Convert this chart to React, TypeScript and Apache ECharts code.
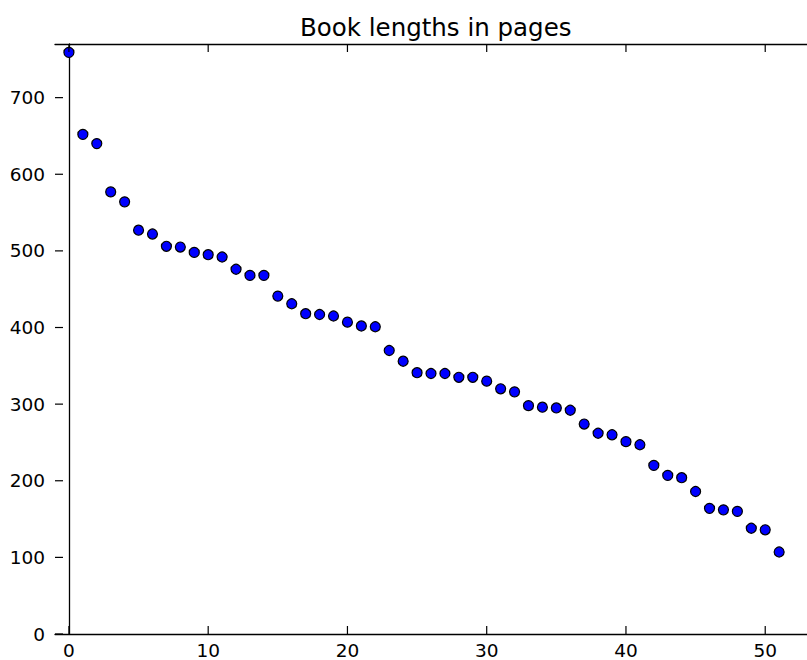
import React, { useEffect, useRef } from "react";
import * as echarts from "echarts";

const titleText = "Book lengths in pages";
const xTicks = [0, 10, 20, 30, 40, 50];
const yTicks = [0, 100, 200, 300, 400, 500, 600, 700];
const pages = [
  759, 652, 640, 577, 564, 527, 522, 506, 505, 498,
  495, 492, 476, 468, 468, 441, 431, 418, 417, 415,
  407, 402, 401, 370, 356, 341, 340, 340, 335, 335,
  330, 320, 316, 298, 296, 295, 292, 274, 262, 260,
  251, 247, 220, 207, 204, 186, 164, 162, 160, 138,
  136, 107,
];

const FONT = "DejaVu Sans";
const X_MIN = -1;
const X_MAX = 53;
const Y_MIN = 0;
const Y_MAX = 770;
const TICK = 8;

export default function App() {
  const ref = useRef<HTMLDivElement>(null);
  useEffect(() => {
    if (!ref.current) return;
    const chart = echarts.init(ref.current, null, { renderer: "svg" });
    const data = pages.map((v, i) => [i, v]);
    const axisLine = { show: true, lineStyle: { color: "#000", width: 1.3 } };
    const tickStyle = { stroke: "#000", lineWidth: 1.2, fill: null };
    const xTickData = xTicks.map((v) => [v, Y_MIN]);
    const yTickData = yTicks.map((v) => [X_MIN, v]);
    chart.setOption({
      animation: false,
      backgroundColor: "#fff",
      title: {
        text: titleText,
        left: 300,
        top: 15,
        padding: 0,
        textStyle: { fontFamily: FONT, fontSize: 24.5, fontWeight: "normal", color: "#000" },
      },
      grid: { left: 55, top: 44, width: 763, height: 591, containLabel: false },
      xAxis: [
        {
          type: "value",
          min: X_MIN,
          max: X_MAX,
          position: "bottom",
          axisLine,
          splitLine: { show: false },
          axisTick: { show: false },
          axisLabel: { customValues: xTicks, margin: 7, fontFamily: FONT, fontSize: 18.5, color: "#000" },
        },
        {
          type: "value",
          min: X_MIN,
          max: X_MAX,
          position: "top",
          axisLine,
          splitLine: { show: false },
          axisTick: { show: false },
          axisLabel: { show: false },
        },
      ],
      yAxis: [
        {
          type: "value",
          min: Y_MIN,
          max: Y_MAX,
          position: "left",
          axisLine,
          splitLine: { show: false },
          axisTick: { show: false },
          axisLabel: { customValues: yTicks, margin: 10, fontFamily: FONT, fontSize: 18.5, color: "#000" },
        },
      ],
      series: [
        {
          type: "custom",
          name: "xticks",
          silent: true,
          clip: false,
          z: 10,
          data: xTickData,
          encode: { x: 0, y: 1 },
          renderItem: (params: any, api: any) => {
            const v = api.value(0);
            const b = api.coord([v, Y_MIN]);
            const t = api.coord([v, Y_MAX]);
            return {
              type: "group",
              children: [
                { type: "line", shape: { x1: b[0], y1: b[1], x2: b[0], y2: b[1] - TICK }, style: tickStyle },
                { type: "line", shape: { x1: t[0], y1: t[1], x2: t[0], y2: t[1] + TICK }, style: tickStyle },
              ],
            };
          },
        },
        {
          type: "custom",
          name: "yticks",
          silent: true,
          clip: false,
          z: 10,
          data: yTickData,
          encode: { x: 0, y: 1 },
          renderItem: (params: any, api: any) => {
            const v = api.value(1);
            const l = api.coord([X_MIN, v]);
            return {
              type: "line",
              shape: { x1: l[0], y1: l[1], x2: l[0] + TICK, y2: l[1] },
              style: tickStyle,
            };
          },
        },
        {
          type: "scatter",
          data,
          symbol: "circle",
          symbolSize: 10,
          itemStyle: { color: "#0000ff", opacity: 1, borderColor: "#000", borderWidth: 1.2 },
          clip: false,
          z: 5,
        },
      ],
    });
    return () => chart.dispose();
  }, []);
  return (
    <div
      ref={ref}
      style={{ position: "absolute", left: 0, top: 0, width: 807, height: 660 }}
    />
  );
}
